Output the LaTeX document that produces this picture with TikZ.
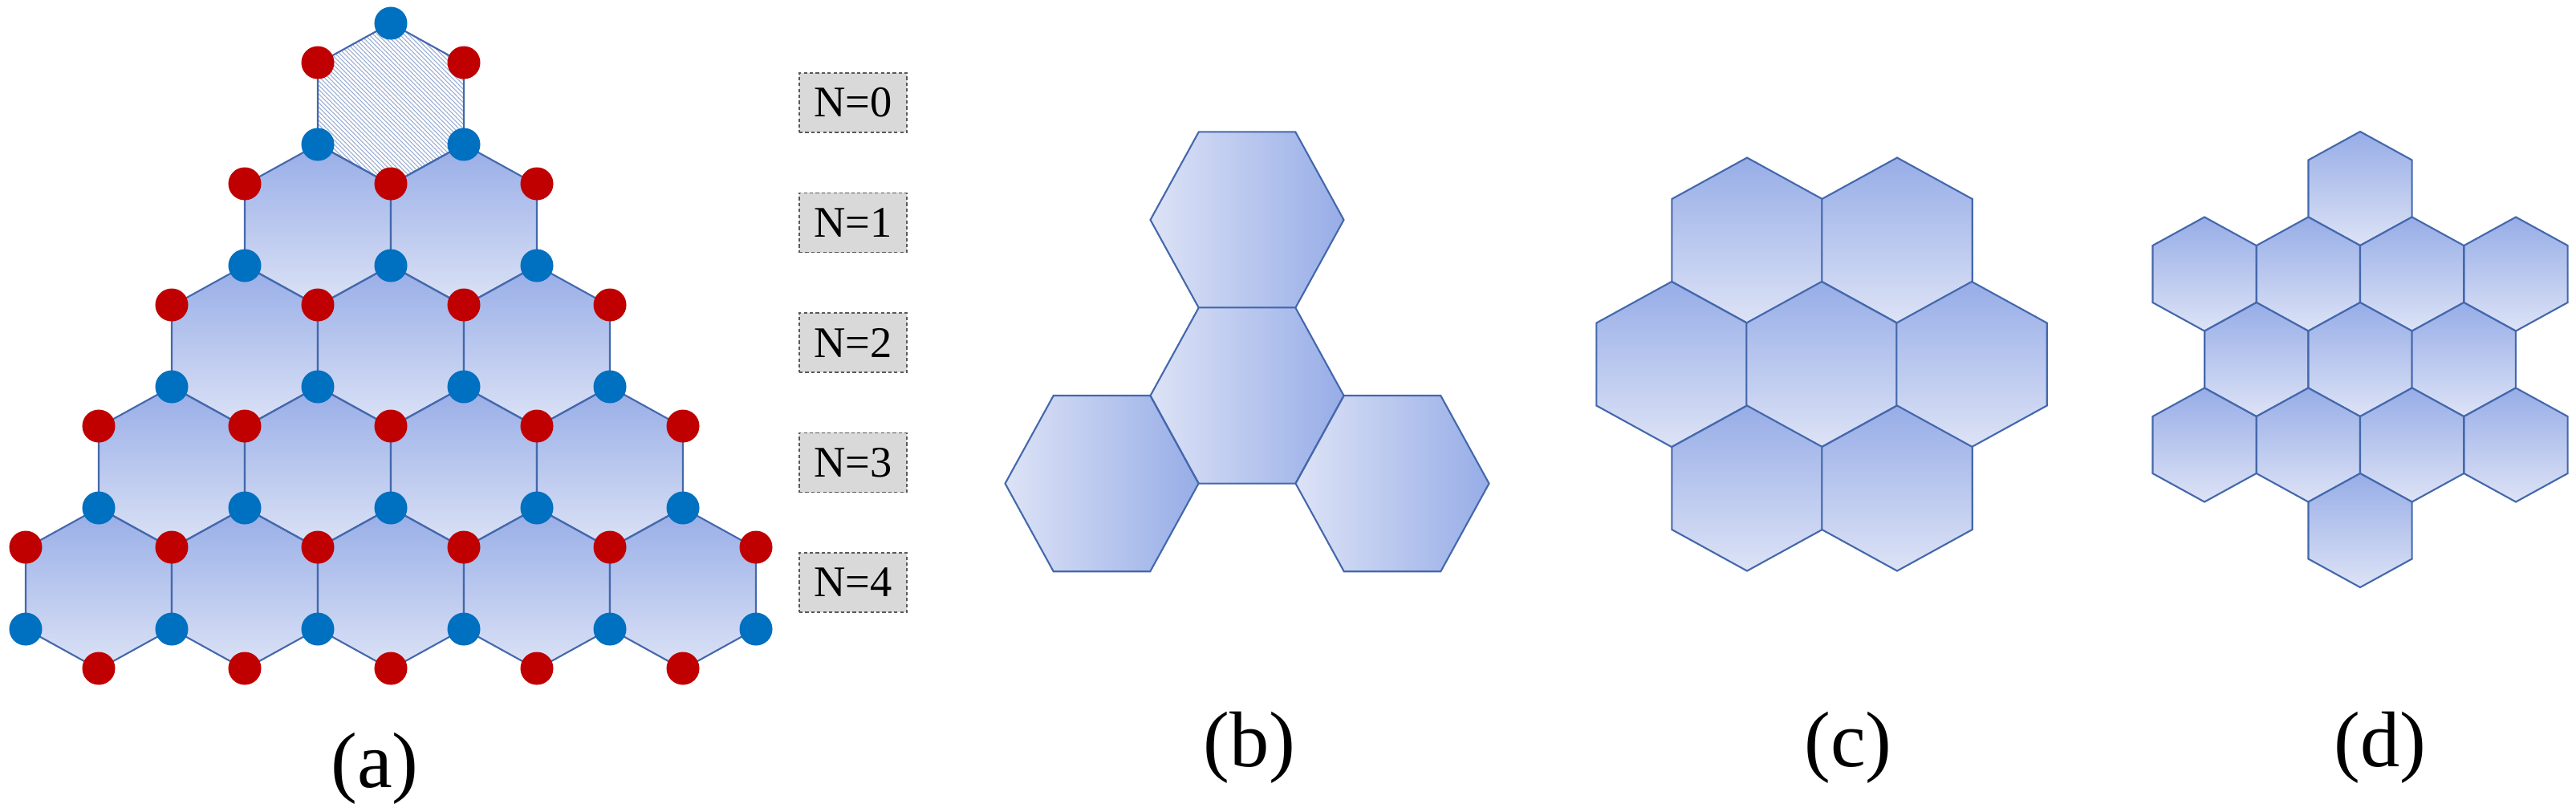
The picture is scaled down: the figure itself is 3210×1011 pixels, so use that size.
\documentclass[tikz,border=0pt]{standalone}
\usepackage{fontspec}
\setmainfont{Liberation Serif}
\usetikzlibrary{patterns.meta}

\definecolor{hexdark}{RGB}{151,173,231}
\definecolor{hexlight}{RGB}{221,227,246}
\definecolor{hexline}{RGB}{68,104,172}
\definecolor{sitered}{RGB}{192,0,0}
\definecolor{siteblue}{RGB}{0,112,192}

% pointy hexagon: centre x, centre y, half width, radius
\newcommand{\pthex}[4]{(#1,#2-#4) -- (#1+#3,#2-#4/2) -- (#1+#3,#2+#4/2) -- (#1,#2+#4) -- (#1-#3,#2+#4/2) -- (#1-#3,#2-#4/2) -- cycle}
% flat hexagon: centre x, centre y, radius, half height
\newcommand{\flhex}[4]{(#1-#3,#2) -- (#1-#3/2,#2-#4) -- (#1+#3/2,#2-#4) -- (#1+#3,#2) -- (#1+#3/2,#2+#4) -- (#1-#3/2,#2+#4) -- cycle}

\begin{document}
\begin{tikzpicture}[x=0.01cm, y=-0.01cm,
    hexcell/.style={draw=hexline, line width=0.6pt, top color=hexdark, bottom color=hexlight},
    sidecell/.style={draw=hexline, line width=0.6pt, left color=hexlight, right color=hexdark},
    seedcell/.style={draw=hexline, line width=0.6pt, pattern={Lines[angle=-45, distance=1.1pt, line width=0.3pt]}, pattern color=hexline!55},
    redsite/.style={circle, fill=sitered, inner sep=0pt, minimum size=0.41cm},
    bluesite/.style={circle, fill=siteblue, inner sep=0pt, minimum size=0.41cm},
    sizebox/.style={draw=black!65, dash pattern=on 1.2pt off 0.9pt, line width=0.5pt, fill=black!15, minimum width=1.34cm, minimum height=0.74cm, inner sep=0pt, font=\fontsize{15.5}{18}\selectfont},
    panel/.style={font=\fontsize{28}{32}\selectfont}]
  \path[fill=white, use as bounding box] (0,0) rectangle (3210,1011);

  % (a) flake with edge sites
  \path[seedcell] \pthex{487}{129.5}{91}{100.5};
  \foreach \r in {1,...,4}{
    \foreach \k in {0,...,\r}{
      \pgfmathsetmacro{\cx}{487+91*(2*\k-\r)}
      \pgfmathsetmacro{\cy}{129.5+151*\r}
      \path[hexcell] \pthex{\cx}{\cy}{91}{100.5};
    }
  }
  \foreach \r in {0,...,5}{
    \foreach \k in {0,...,\r}{
      \pgfmathsetmacro{\sx}{487+91*(2*\k-\r)}
      \node[bluesite] (bl\r-\k) at (\sx,{29+151*\r}) {};
    }
  }
  \foreach \r in {0,...,4}{
    \pgfmathtruncatemacro{\last}{\r+1}
    \foreach \k in {0,...,\last}{
      \pgfmathsetmacro{\sx}{487+91*(2*\k-\r-1)}
      \node[redsite] (rd\r-\k) at (\sx,{78+151*\r}) {};
    }
  }
  \foreach \k in {0,...,4}{
    \pgfmathsetmacro{\sx}{487+91*(2*\k-4)}
    \node[redsite] (rb\k) at (\sx,833) {};
  }
  \foreach \n in {0,...,4}
    \node[sizebox] (size\n) at (1063,{128+149.5*\n}) {N=\n};

  % (b)
  \path[sidecell] \flhex{1554}{274}{120.5}{109.6};
  \path[sidecell] \flhex{1554}{493}{120.5}{109.6};
  \path[sidecell] \flhex{1373}{602.6}{120.5}{109.6};
  \path[sidecell] \flhex{1735}{602.6}{120.5}{109.6};

  % (c)
  \foreach \cx/\cy in {2177/299.5, 2364/299.5, 2083/454, 2270/454, 2457/454, 2177/608.5, 2364/608.5}
    \path[hexcell] \pthex{\cx}{\cy}{93.7}{103};

  % (d)
  \foreach \cx/\cy in {2941/235,
      2747/341.5, 2876.4/341.5, 3005.6/341.5, 3135/341.5,
      2811.8/448, 2941/448, 3070.2/448,
      2747/554.5, 2876.4/554.5, 3005.6/554.5, 3135/554.5,
      2941/661}
    \path[hexcell] \pthex{\cx}{\cy}{64.6}{71};

  \node[panel] (capa) at (467,958) {(a)};
  \node[panel] (capb) at (1557,932) {(b)};
  \node[panel] (capc) at (2303,932) {(c)};
  \node[panel] (capd) at (2966,932) {(d)};
\end{tikzpicture}
\end{document}
